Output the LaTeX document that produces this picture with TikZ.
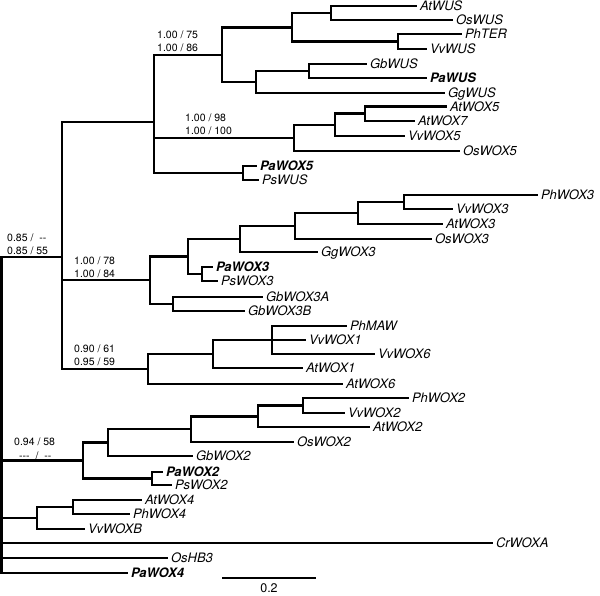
\documentclass[tikz,border=0pt]{standalone}
\usepackage{fontspec}
\setmainfont{TeX Gyre Heros}
\newcommand{\hy}{\mbox{-}}
\tikzset{
  br/.style={line width=2.6pt},
  leaf/.style={anchor=west, inner sep=0pt, outer xsep=3pt, outer ysep=0pt,
    font=\fontsize{13}{13}\selectfont\itshape, text height=9.3pt, text depth=0pt},
  pleaf/.style={leaf, font=\fontsize{13}{13}\selectfont\bfseries\itshape},
  supp/.style={anchor=base west, inner sep=0pt, font=\fontsize{10.5}{10.5}\selectfont},
  scalelab/.style={anchor=base, inner sep=0pt, font=\fontsize{12.5}{12.5}\selectfont}
}
\begin{document}
\begin{tikzpicture}[x=1pt,y=-1pt]
\useasboundingbox (0,0) rectangle (600,596);
% leaves
\node[leaf]  (AtWUS)   at (417,6)   {AtWUS};
\node[leaf]  (OsWUS)   at (453,20)  {OsWUS};
\node[leaf]  (PhTER)   at (462,34)  {PhTER};
\node[leaf]  (VvWUS)   at (427,49)  {VvWUS};
\node[leaf]  (GbWUS)   at (367,64)  {GbWUS};
\node[pleaf] (PaWUS)   at (427,78)  {PaWUS};
\node[leaf]  (GgWUS)   at (445,93)  {GgWUS};
\node[leaf]  (AtWOX5)  at (447,106.5) {AtWOX5};
\node[leaf]  (AtWOX7)  at (415,121) {AtWOX7};
\node[leaf]  (VvWOX5)  at (405,136) {VvWOX5};
\node[leaf]  (OsWOX5)  at (460,151) {OsWOX5};
\node[pleaf] (PaWOX5)  at (257,166) {PaWOX5};
\node[leaf]  (PsWUS)   at (259,180) {PsWUS};
\node[leaf]  (PhWOX3)  at (538,195) {PhWOX3};
\node[leaf]  (VvWOX3)  at (453,209) {VvWOX3};
\node[leaf]  (AtWOX3)  at (443,224) {AtWOX3};
\node[leaf]  (OsWOX3)  at (432,239) {OsWOX3};
\node[leaf]  (GgWOX3)  at (318,252) {GgWOX3};
\node[pleaf] (PaWOX3)  at (213,267) {PaWOX3};
\node[leaf]  (PsWOX3)  at (218,281) {PsWOX3};
\node[leaf]  (GbWOX3A) at (263,297) {GbWOX3A};
\node[leaf]  (GbWOX3B) at (245,311) {GbWOX3B};
\node[leaf]  (PhMAW)   at (347,326) {PhMAW};
\node[leaf]  (VvWOX1)  at (306,340) {VvWOX1};
\node[leaf]  (VvWOX6)  at (375,354) {VvWOX6};
\node[leaf]  (AtWOX1)  at (303,368) {AtWOX1};
\node[leaf]  (AtWOX6)  at (343,384) {AtWOX6};
\node[leaf]  (PhWOX2)  at (409,398) {PhWOX2};
\node[leaf]  (VvWOX2)  at (345,413) {VvWOX2};
\node[leaf]  (AtWOX2)  at (370,427) {AtWOX2};
\node[leaf]  (OsWOX2)  at (294,442) {OsWOX2};
\node[leaf]  (GbWOX2)  at (193,456) {GbWOX2};
\node[pleaf] (PaWOX2)  at (163,472) {PaWOX2};
\node[leaf]  (PsWOX2)  at (172,485) {PsWOX2};
\node[leaf]  (AtWOX4)  at (142,500) {AtWOX4};
\node[leaf]  (PhWOX4)  at (130,514) {PhWOX4};
\node[leaf]  (VvWOXB)  at (85,529)  {VvWOXB};
\node[leaf]  (CrWOXA)  at (493,543) {CrWOXA};
\node[leaf]  (OsHB3)   at (168,558) {OsHB3};
\node[pleaf] (PaWOX4)  at (128,573) {PaWOX4};
% internal nodes
\coordinate (nAO)   at (331,13);
\coordinate (nPV)   at (398,41.5);
\coordinate (nW1)   at (292,27.5);
\coordinate (nGP)   at (309,71);
\coordinate (nW2)   at (256,82);
\coordinate (nWUS)  at (222,55);
\coordinate (nA57)  at (365,113.75);
\coordinate (nV5)   at (335,125);
\coordinate (nWOX5) at (294,138);
\coordinate (nPP5)  at (243,173);
\coordinate (nTop)  at (154,122);
\coordinate (nC)    at (404,202);
\coordinate (nB)    at (358,213);
\coordinate (nA)    at (295,226);
\coordinate (nG)    at (240,239);
\coordinate (nPP3)  at (202,274);
\coordinate (nW3a)  at (188,256.5);
\coordinate (nGb3)  at (173,304);
\coordinate (nWOX3) at (150,280);
\coordinate (nPh)   at (272,340);
\coordinate (nW1b)  at (213,354);
\coordinate (nWOX1) at (148,369);
\coordinate (n62)   at (62,257);
\coordinate (nPV2)  at (303,405.5);
\coordinate (n258)  at (258,416.5);
\coordinate (n191)  at (191,429);
\coordinate (n108)  at (108,442.5);
\coordinate (nPP2)  at (152,478.5);
\coordinate (n83)   at (83,460.5);
\coordinate (nAP4)  at (73,507);
\coordinate (n37)   at (37,518);
\coordinate (root)  at (1.6,485);
% branches
\foreach \p/\c in {nAO/AtWUS, nAO/OsWUS, nPV/PhTER, nPV/VvWUS, nW1/nAO, nW1/nPV,
  nGP/GbWUS, nGP/PaWUS, nW2/nGP, nW2/GgWUS, nWUS/nW1, nWUS/nW2,
  nA57/AtWOX5, nA57/AtWOX7, nV5/nA57, nV5/VvWOX5, nWOX5/nV5, nWOX5/OsWOX5,
  nPP5/PaWOX5, nPP5/PsWUS, nTop/nWUS, nTop/nWOX5, nTop/nPP5,
  nC/PhWOX3, nC/VvWOX3, nB/nC, nB/AtWOX3, nA/nB, nA/OsWOX3, nG/nA, nG/GgWOX3,
  nPP3/PaWOX3, nPP3/PsWOX3, nW3a/nG, nW3a/nPP3, nGb3/GbWOX3A, nGb3/GbWOX3B,
  nWOX3/nW3a, nWOX3/nGb3,
  nPh/PhMAW, nPh/VvWOX1, nPh/VvWOX6, nW1b/nPh, nW1b/AtWOX1, nWOX1/nW1b, nWOX1/AtWOX6,
  n62/nTop, n62/nWOX3, n62/nWOX1,
  nPV2/PhWOX2, nPV2/VvWOX2, n258/nPV2, n258/AtWOX2, n191/n258, n191/OsWOX2,
  n108/n191, n108/GbWOX2, nPP2/PaWOX2, nPP2/PsWOX2, n83/n108, n83/nPP2,
  nAP4/AtWOX4, nAP4/PhWOX4, n37/nAP4, n37/VvWOXB,
  root/n62, root/n83, root/n37, root/CrWOXA, root/OsHB3, root/PaWOX4}
  \draw[br] (\p) |- (\c);
% support values
\node[supp] (s1a) at (157,38.7)  {1.00 / 75};
\node[supp] (s1b) at (157,51.7)  {1.00 / 86};
\node[supp] (s2a) at (185,121.7) {1.00 / 98};
\node[supp] (s2b) at (185,134.7) {1.00 / 100};
\node[supp] (s3a) at (7,241.7)   {0.85 / \ \hy\hy};
\node[supp] (s3b) at (7,254.7)   {0.85 / 55};
\node[supp] (s4a) at (74,264.7)  {1.00 / 78};
\node[supp] (s4b) at (74,277.7)  {1.00 / 84};
\node[supp] (s5a) at (74,352.7)  {0.90 / 61};
\node[supp] (s5b) at (74,365.7)  {0.95 / 59};
\node[supp] (s6a) at (14,445.7)  {0.94 / 58};
\node[supp] (s6b) at (19,459.7)  {\hy\hy\hy\ \ /\ \ \hy\hy};
% scale bar
\coordinate (sb1) at (222,578);
\coordinate (sb2) at (316,578);
\draw[line width=1.5pt] (sb1) -- (sb2);
\node[scalelab] (sblab) at (269,592.5) {0.2};
\end{tikzpicture}
\end{document}
